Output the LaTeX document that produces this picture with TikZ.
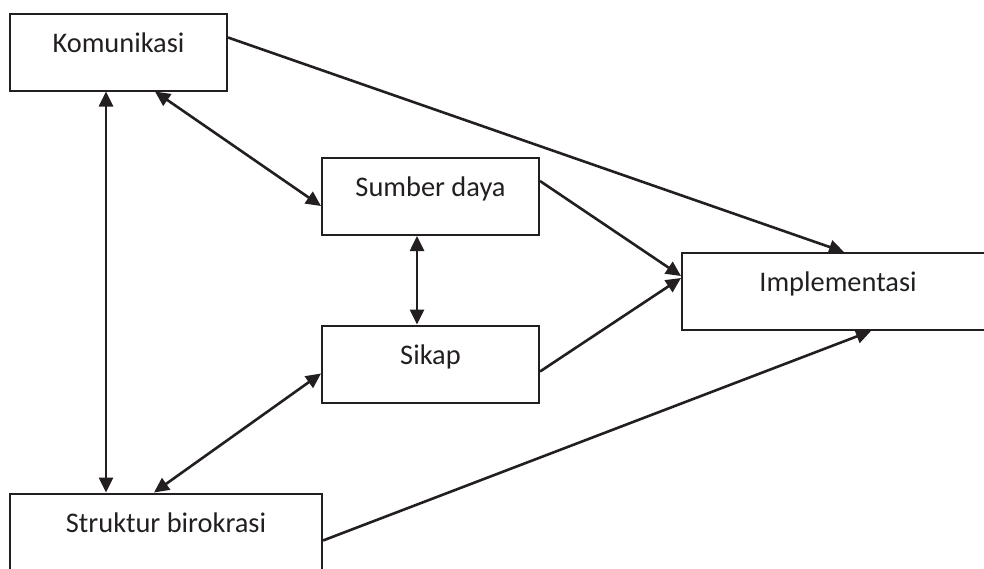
\documentclass[tikz,border=0pt]{standalone}
\usepackage{fontspec}
\setmainfont{Carlito}
\usetikzlibrary{arrows.meta,calc}
\definecolor{ink}{HTML}{231F20}
\begin{document}
\begin{tikzpicture}[x=0.5pt,y=-0.5pt,
  box/.style={draw=ink,line width=1pt,rectangle,inner sep=0pt,
    text height=19.25pt,text depth=19.25pt,text=ink,
    font=\fontsize{14.2}{17}\selectfont},
  conn/.style={draw=ink,line width=1.3pt},
  tip/.style={-{Triangle[length=7.5pt,width=7pt]}},
  both/.style={{Triangle[length=7.5pt,width=7pt]}-{Triangle[length=7.5pt,width=7pt]}}]
\useasboundingbox (0,0) rectangle (984,568);
\node[box,minimum width=108.5pt] (kom) at (118.5,52) {Komunikasi};
\node[box,minimum width=108.5pt] (sum) at (430.5,196.5) {Sumber daya};
\node[box,minimum width=108.5pt] (sik) at (430.5,364) {Sikap};
\node[box,minimum width=156pt] (imp) at (838,291.5) {Implementasi};
\node[box,minimum width=156pt] (str) at (166,532) {Struktur birokrasi};
% connectors
\draw[conn,tip] ($(kom.north east)+(0,25)$) -- ($(imp.north west)+(163,0)$);
\draw[conn,both] ($(kom.south west)+(146,0)$) -- ($(sum.north west)+(0,49)$);
\draw[conn,both] ($(kom.south west)+(97,0)$) -- ($(str.north west)+(97,0)$);
\draw[conn,both] ($(sum.south west)+(96,0)$) -- ($(sik.north west)+(96,0)$);
\draw[conn,tip] ($(sum.north east)+(0,24)$) -- ($(imp.north west)+(0,24)$);
\draw[conn,tip] ($(sik.north east)+(0,47)$) -- ($(imp.north west)+(0,26)$);
\draw[conn,both] ($(sik.north west)+(0,49)$) -- ($(str.north west)+(145,0)$);
\draw[conn,tip] ($(str.north east)+(0,48)$) -- ($(imp.south west)+(190,0)$);
\end{tikzpicture}
\end{document}
